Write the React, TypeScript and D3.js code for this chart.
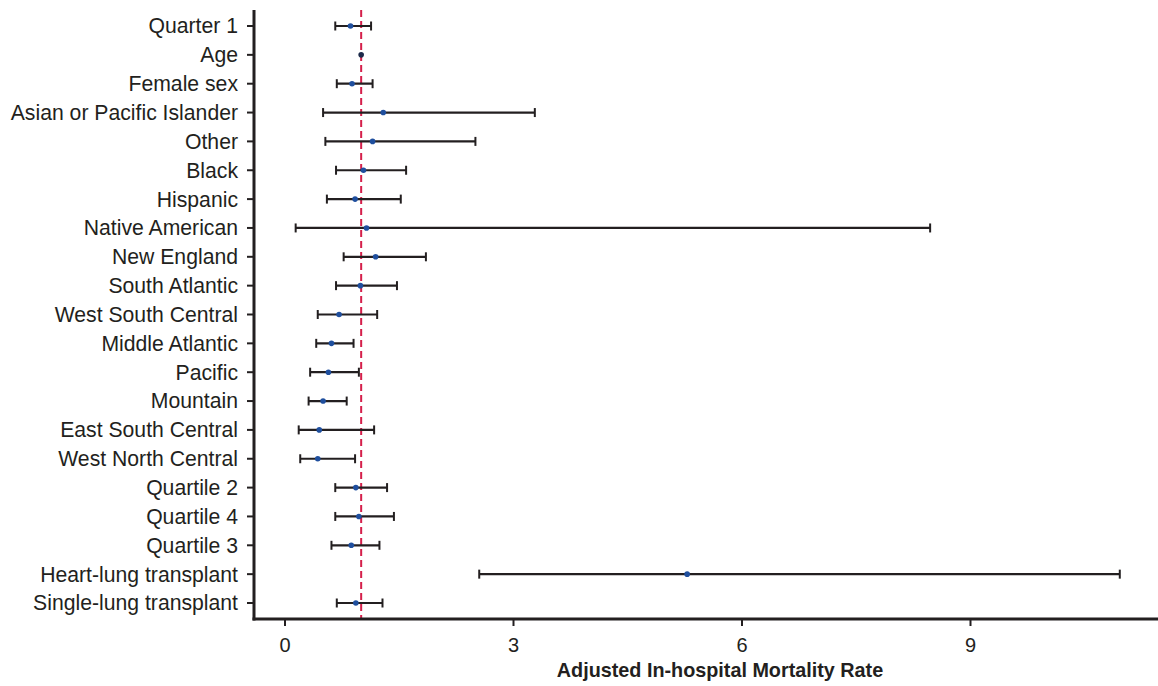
import React from "react";
import * as d3 from "d3";

const labels = [
  "Quarter 1", "Age", "Female sex", "Asian or Pacific Islander", "Other", "Black", "Hispanic",
  "Native American", "New England", "South Atlantic", "West South Central", "Middle Atlantic",
  "Pacific", "Mountain", "East South Central", "West North Central", "Quartile 2", "Quartile 4",
  "Quartile 3", "Heart-lung transplant", "Single-lung transplant",
];
const estimates = [0.86, 1.0, 0.88, 1.29, 1.15, 1.03, 0.92, 1.07, 1.19, 0.99, 0.71, 0.61, 0.57, 0.5, 0.45, 0.43, 0.93, 0.97, 0.87, 5.28, 0.93];
const lower = [0.66, 0.995, 0.68, 0.5, 0.53, 0.67, 0.55, 0.14, 0.77, 0.67, 0.43, 0.41, 0.33, 0.31, 0.18, 0.2, 0.66, 0.66, 0.61, 2.55, 0.68];
const upper = [1.13, 1.005, 1.15, 3.28, 2.5, 1.59, 1.52, 8.47, 1.85, 1.47, 1.21, 0.9, 0.97, 0.81, 1.17, 0.92, 1.34, 1.43, 1.24, 10.96, 1.28];
const xTicks = [0, 3, 6, 9];
const referenceValue = 1;
const xTitle = "Adjusted In-hospital Mortality Rate";

const W = 1158;
const H = 686;
const FONT = "'Liberation Sans', Arial, Helvetica, sans-serif";

export default function App() {
  const x = d3.scaleLinear().domain([0, 9]).range([285, 970.5]);
  const y = d3.scalePoint<string>().domain(labels).range([26, 603]);
  const axisX = 254;
  const axisY = 619;
  const top = 10;
  const ink = "#231f20";
  const capH = 4.5;

  return (
    <svg width={W} height={H} style={{ position: "absolute", left: 0, top: 0, background: "#fff" }}>
      <line x1={x(referenceValue)} x2={x(referenceValue)} y1={top} y2={axisY}
        stroke="#d51f4b" strokeWidth={2} strokeDasharray="7,4" />
      {labels.map((l, i) => {
        const yy = y(l)!;
        const showBar = upper[i] - lower[i] > 0.02;
        return (
          <g key={l}>
            {showBar && (
              <>
                <line x1={x(lower[i])} x2={x(upper[i])} y1={yy} y2={yy} stroke={ink} strokeWidth={2.2} />
                <line x1={x(lower[i])} x2={x(lower[i])} y1={yy - capH} y2={yy + capH} stroke={ink} strokeWidth={2} />
                <line x1={x(upper[i])} x2={x(upper[i])} y1={yy - capH} y2={yy + capH} stroke={ink} strokeWidth={2} />
              </>
            )}
            <circle cx={x(estimates[i])} cy={yy} r={2.8} fill={showBar ? "#1f4f9e" : "#1c2a4a"} />
          </g>
        );
      })}
      <line x1={axisX} x2={axisX} y1={top} y2={axisY + 1.5} stroke={ink} strokeWidth={3} />
      {labels.map((l) => (
        <g key={"t" + l}>
          <line x1={axisX - 7} x2={axisX} y1={y(l)!} y2={y(l)!} stroke={ink} strokeWidth={2} />
          <text x={238} y={y(l)!} dy="0.35em" textAnchor="end" fontFamily={FONT} fontSize={21.2} fill={ink}>
            {l}
          </text>
        </g>
      ))}
      <line x1={axisX - 1.5} x2={W} y1={axisY} y2={axisY} stroke={ink} strokeWidth={3} />
      {xTicks.map((t) => (
        <g key={"x" + t}>
          <line x1={x(t)} x2={x(t)} y1={axisY} y2={axisY + 7} stroke={ink} strokeWidth={2} />
          <text x={x(t)} y={652} textAnchor="middle" fontFamily={FONT} fontSize={20} fill={ink}>
            {t}
          </text>
        </g>
      ))}
      <text x={720} y={677} textAnchor="middle" fontFamily={FONT} fontSize={19.8} fontWeight="bold" fill={ink}>
        {xTitle}
      </text>
    </svg>
  );
}
